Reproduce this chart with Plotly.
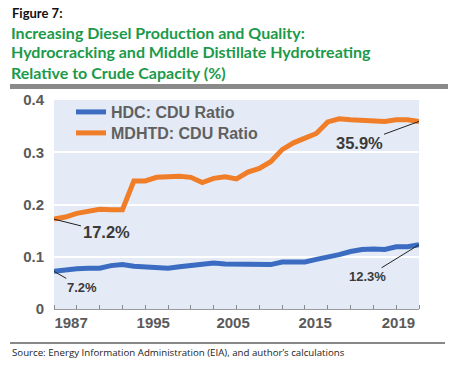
import plotly.graph_objects as go

# ---- data ----
years = list(range(1988, 2021))
hdc_ratio = [0.072, 0.075, 0.077, 0.078, 0.078, 0.083, 0.085, 0.082, 0.081, 0.080,
             0.078, 0.081, 0.083, 0.085, 0.088, 0.086, 0.086, 0.086, 0.086, 0.085,
             0.090, 0.090, 0.090, 0.095, 0.099, 0.104, 0.110, 0.114, 0.115, 0.114,
             0.119, 0.119, 0.123]
mdhtd_ratio = [0.172, 0.176, 0.183, 0.186, 0.191, 0.190, 0.190, 0.245, 0.245, 0.252,
               0.253, 0.254, 0.252, 0.242, 0.250, 0.253, 0.249, 0.262, 0.269, 0.282,
               0.305, 0.318, 0.327, 0.336, 0.358, 0.364, 0.362, 0.361, 0.360, 0.359,
               0.362, 0.362, 0.359]
series_names = ["HDC: CDU Ratio", "MDHTD: CDU Ratio"]
x_tick_labels = ["1987", "1995", "2005", "2015", "2019"]
x_tick_pos = [1989.5, 1996.7, 2003.7, 2010.9, 2018.2]
y_tick_vals = [0, 0.1, 0.2, 0.3, 0.4]
y_tick_text = ["0", "0.1", "0.2", "0.3", "0.4"]

W, H = 457, 367
L, R, T, B = 54, 38, 100, 58
PW, PH = W - L - R, H - T - B


def px_x(px):
    return (px - L) / PW


def px_y(py):
    return (H - B - py) / PH


BLUE = "#3b6cc2"
ORANGE = "#f07d28"
GREEN = "#1b9a4a"
BOLD = "'Liberation Sans', Arial, sans-serif"
TITLEF = "Lato, 'Noto Sans', sans-serif"

fig = go.Figure()
fig.add_trace(go.Scatter(x=years, y=hdc_ratio, mode="lines", name=f"<b>{series_names[0]}</b>",
                         line=dict(color=BLUE, width=5), legend="legend"))
fig.add_trace(go.Scatter(x=years, y=mdhtd_ratio, mode="lines", name=f"<b>{series_names[1]}</b>",
                         line=dict(color=ORANGE, width=5), legend="legend2"))

annotations = []
# Title block
annotations.append(dict(text="<b>Figure 7:</b>", x=px_x(10), y=px_y(13), xref="paper", yref="paper",
                        xanchor="left", yanchor="middle", showarrow=False,
                        font=dict(family=TITLEF, size=13, color="#111")))
for i, t in enumerate(["Increasing Diesel Production and Quality:",
                       "Hydrocracking and Middle Distillate Hydrotreating",
                       "Relative to Crude Capacity (%)"]):
    annotations.append(dict(text=f"<b>{t}</b>", x=px_x(9), y=px_y(32 + 20 * i), xref="paper", yref="paper",
                            xanchor="left", yanchor="middle", showarrow=False,
                            font=dict(family=TITLEF, size=16, color=GREEN)))
# Source
annotations.append(dict(text="Source: Energy Information Administration (EIA), and author\u2019s calculations",
                        x=px_x(10), y=px_y(352), xref="paper", yref="paper",
                        xanchor="left", yanchor="middle", showarrow=False,
                        font=dict(family="'Open Sans', sans-serif", size=9.7, color="#222")))

# Value callouts
LABEL = "#3a3a3a"
annotations.append(dict(x=years[0], y=mdhtd_ratio[0], text=f"<b>{mdhtd_ratio[0]*100:.1f}%</b>",
                        ax=52, ay=13, showarrow=True, arrowhead=0, arrowwidth=1, arrowcolor="#222",
                        xanchor="center", yanchor="middle",
                        font=dict(family=BOLD, size=16.5, color=LABEL)))
annotations.append(dict(x=years[0], y=hdc_ratio[0], text=f"<b>{hdc_ratio[0]*100:.1f}%</b>",
                        ax=28, ay=16, showarrow=True, arrowhead=0, arrowwidth=1, arrowcolor="#222",
                        xanchor="center", yanchor="middle",
                        font=dict(family=BOLD, size=13, color=LABEL)))
annotations.append(dict(x=years[-1], y=mdhtd_ratio[-1], text=f"<b>{mdhtd_ratio[-1]*100:.1f}%</b>",
                        ax=-60, ay=22, showarrow=True, arrowhead=0, arrowwidth=1, arrowcolor="#222",
                        xanchor="center", yanchor="middle",
                        font=dict(family=BOLD, size=16.5, color=LABEL)))
annotations.append(dict(x=years[-1], y=hdc_ratio[-1], text=f"<b>{hdc_ratio[-1]*100:.1f}%</b>",
                        ax=-52, ay=32, showarrow=True, arrowhead=0, arrowwidth=1, arrowcolor="#222",
                        xanchor="center", yanchor="middle",
                        font=dict(family=BOLD, size=13, color=LABEL)))

shapes = [
    dict(type="rect", xref="paper", yref="paper", x0=px_x(10), x1=px_x(448), y0=px_y(84), y1=px_y(89),
         fillcolor="#8a8a8a", line=dict(width=0), layer="above"),
    dict(type="line", xref="paper", yref="paper", x0=px_x(10), x1=px_x(445), y0=px_y(343), y1=px_y(343),
         line=dict(color="#111", width=1)),
]

legend_font = dict(family=BOLD, size=16, color="#606060", weight="bold")
fig.update_layout(
    width=W, height=H,
    margin=dict(l=L, r=R, t=T, b=B),
    paper_bgcolor="white",
    plot_bgcolor="#e4ebf6",
    showlegend=True,
    legend=dict(x=px_x(71), y=px_y(112), xanchor="left", yanchor="middle",
                bgcolor="rgba(0,0,0,0)", font=legend_font),
    legend2=dict(x=px_x(71), y=px_y(133), xanchor="left", yanchor="middle",
                 bgcolor="rgba(0,0,0,0)", font=legend_font),
    annotations=annotations,
    shapes=shapes,
    xaxis=dict(range=[years[0], years[-1]], tickvals=x_tick_pos, ticktext=x_tick_labels,
               ticks="", showgrid=False, zeroline=False, showline=True, linecolor="#9a9a9a",
               linewidth=1, ticklabelstandoff=0,
               minor=dict(tick0=years[0], dtick=2, ticks="inside", ticklen=4, tickcolor="#8a8a8a",
                          showgrid=False),
               tickfont=dict(family=BOLD, size=15, color="#5a5a5a", weight="bold")),
    yaxis=dict(range=[0, 0.4], tickvals=y_tick_vals, ticktext=y_tick_text,
               showgrid=True, gridcolor="white", gridwidth=2, zeroline=False, showline=False,
               ticks="outside", ticklen=6, tickcolor="rgba(0,0,0,0)",
               tickfont=dict(family=BOLD, size=15, color="#5a5a5a", weight="bold")),
)

fig.write_html("out.html", config={"displayModeBar": False},
               post_script="document.body.style.margin='0';")
